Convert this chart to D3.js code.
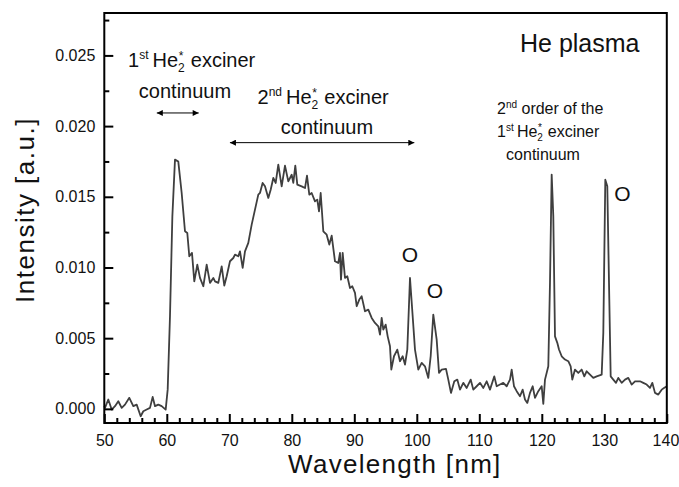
<!DOCTYPE html>
<html>
<head>
<meta charset="utf-8">
<script src="https://cdn.jsdelivr.net/npm/d3@7"></script>
<style>
  html, body { margin: 0; padding: 0; background: #fff; }
  svg { display: block; font-family: "Liberation Sans", Arial, sans-serif; }
</style>
</head>
<body>
<svg id="chart" width="679" height="487"></svg>
<script>
// ---- data ----
const wavelength = [
  50.0, 50.11, 50.64, 51.18, 51.71, 52.24, 52.78, 53.31, 54.0, 54.64, 55.18, 55.82, 56.24, 56.78, 57.31, 57.74,
  58.11, 58.64, 59.18, 59.82, 60.14, 60.51, 60.89, 61.31, 61.84, 62.38, 62.91, 63.28, 63.6, 64.03,
  64.4, 64.88, 65.31, 65.84, 66.38, 66.91, 67.44, 67.71, 68.24, 68.78, 69.2, 69.58, 70.11, 70.64,
  70.91, 71.44, 71.71, 72.14, 72.51, 73.04, 73.58, 74.11, 74.64, 74.91, 75.33, 75.71, 76.24, 76.62,
  77.04, 77.42, 77.84, 78.38, 78.91, 79.44, 79.98, 80.24, 80.56, 80.88, 81.58, 82.11, 82.43, 82.8,
  83.18, 83.71, 84.08, 84.35, 84.62, 85.04, 85.58, 86.0, 86.38, 86.91, 87.44, 87.71, 87.87, 88.14,
  88.51, 88.88, 89.31, 89.68, 90.11, 90.38, 90.8, 91.18, 91.71, 92.24, 92.78, 93.31, 93.84, 94.11,
  94.38, 94.64, 95.02, 95.34, 95.71, 95.92, 96.35, 96.88, 97.31, 97.74, 98.11, 98.48, 98.91, 99.34,
  99.71, 100.24, 100.78, 101.31, 101.84, 102.22, 102.64, 103.18, 103.55, 103.98, 104.67, 105.04,
  105.47, 106.0, 106.48, 106.91, 107.44, 107.98, 108.62, 109.04, 109.58, 110.11, 110.64, 111.18,
  111.71, 112.4, 112.78, 113.31, 113.84, 114.38, 114.91, 115.18, 115.55, 115.98, 116.51, 116.94,
  117.31, 117.68, 118.11, 118.54, 118.91, 119.44, 119.98, 120.24, 120.51, 121.04, 121.31, 121.58,
  121.84, 122.11, 122.48, 122.75, 123.18, 123.71, 124.24, 124.62, 124.88, 125.31, 125.84, 126.38,
  126.8, 127.18, 127.71, 128.24, 128.78, 129.58, 129.84, 130.16, 130.48, 130.8, 131.02, 131.44,
  131.87, 132.24, 132.78, 133.31, 133.84, 134.38, 134.91, 135.71, 136.24, 136.78, 137.31, 137.68,
  138.11, 138.64, 139.18, 139.55, 140.0
];
const intensity = [
  0.0002, 0.00007, 0.00066, -0.00005, 0.00019, 0.00054, 0.00007, 0.0003, 0.00078, 0.00019, 0.0003, -0.00052, -0.00017, -0.00005, 0.00007, 0.00085,
  0.00019, 0.0003, 0.00019, -0.00005, 0.00136, 0.00655, 0.01362, 0.01763, 0.01749, 0.01527, 0.01256, 0.01244, 0.01079, 0.01103,
  0.00902, 0.0102, 0.00926, 0.00867, 0.0102, 0.00891, 0.00926, 0.00902, 0.00891, 0.01008, 0.00872, 0.00938, 0.01044, 0.01067,
  0.01091, 0.01079, 0.01114, 0.00997, 0.01114, 0.01174, 0.01303, 0.01409, 0.01515, 0.01527, 0.01598, 0.01574, 0.01492, 0.0155,
  0.01633, 0.01598, 0.01727, 0.01574, 0.0172, 0.01609, 0.01656, 0.01598, 0.0172, 0.01586, 0.01574, 0.01562, 0.0165, 0.01515,
  0.01527, 0.01468, 0.0148, 0.01397, 0.01527, 0.01256, 0.01232, 0.01162, 0.01225, 0.01044, 0.01032, 0.01103, 0.00914, 0.01103,
  0.00926, 0.00938, 0.00855, 0.00867, 0.0082, 0.00726, 0.00773, 0.00796, 0.0069, 0.00702, 0.00643, 0.00608, 0.00584, 0.00525,
  0.00643, 0.00561, 0.00596, 0.00513, 0.00443, 0.00278, 0.00372, 0.00419, 0.00337, 0.00372, 0.00313, 0.00419, 0.00926, 0.00655,
  0.00419, 0.00278, 0.00325, 0.00301, 0.00219, 0.00372, 0.00667, 0.0049, 0.00255, 0.00278, 0.00283, 0.00207,
  0.00113, 0.00195, 0.00207, 0.00136, 0.00184, 0.00148, 0.00207, 0.00136, 0.0016, 0.00184, 0.00148, 0.00195,
  0.00136, 0.0023, 0.0016, 0.00172, 0.00184, 0.0016, 0.00207, 0.00278, 0.0016, 0.00125, 0.00089, 0.00136,
  0.00066, 0.00042, 0.00113, 0.0016, 0.00078, 0.00125, 0.0016, 0.00035, 0.00207, 0.00301, 0.00891, 0.01657,
  0.01362, 0.00513, 0.00467, 0.0042, 0.00372, 0.00349, 0.00337, 0.00301, 0.00207, 0.00278, 0.00254, 0.00278,
  0.0023, 0.00266, 0.00242, 0.00219, 0.0023, 0.00242, 0.00537, 0.01621, 0.01574, 0.00773, 0.0023, 0.00207,
  0.00184, 0.00219, 0.00184, 0.00207, 0.00219, 0.00172, 0.00195, 0.00195, 0.00184, 0.00172, 0.00148, 0.00184,
  0.00113, 0.00101, 0.00136, 0.00148, 0.0016
];
const xDomain = [50, 140];
const yDomain = [-0.001, 0.028];
const xMajorTicks = [50, 60, 70, 80, 90, 100, 110, 120, 130, 140];
const yMajorTicks = [0.000, 0.005, 0.010, 0.015, 0.020, 0.025];
const yTickLabels = ["0.000", "0.005", "0.010", "0.015", "0.020", "0.025"];
const xTitle = "Wavelength [nm]";
const yTitle = "Intensity [a.u.]";
// O-line markers (wavelength, intensity position of label)
const oMarkers = [[98.9, 0.0109], [102.9, 0.0084], [132.9, 0.01525]];

// ---- layout ----
const svg = d3.select("#chart");
const padL = 104.3, padR = 666.8, padT = 13, padB = 423;
const x = d3.scaleLinear().domain(xDomain).range([padL, padR]);
const y = d3.scaleLinear().domain(yDomain).range([padB, padT]);

const xMinor = d3.range(50, 140.01, 2).filter(v => v % 10 !== 0);
const yMinor = d3.range(0.0025, 0.0276, 0.005);

// spectrum line
const line = d3.line().x((d, i) => x(wavelength[i])).y(d => y(d));
svg.append("path")
  .datum(intensity)
  .attr("d", line)
  .attr("fill", "none")
  .attr("stroke", "#3f3f3f")
  .attr("stroke-width", 1.8)
  .attr("stroke-linejoin", "round");

// axes
const gx = svg.append("g").attr("transform", `translate(0,${padB})`)
  .call(d3.axisBottom(x).tickValues(xMajorTicks).tickSize(-9).tickPadding(12).tickFormat(d3.format("d")));
const gxm = svg.append("g").attr("transform", `translate(0,${padB})`)
  .call(d3.axisBottom(x).tickValues(xMinor).tickSize(-5).tickFormat(""));
const gy = svg.append("g").attr("transform", `translate(${padL},0)`)
  .call(d3.axisLeft(y).tickValues(yMajorTicks).tickSize(-9).tickPadding(9).tickFormat((d, i) => yTickLabels[i]));
const gym = svg.append("g").attr("transform", `translate(${padL},0)`)
  .call(d3.axisLeft(y).tickValues(yMinor).tickSize(-5).tickFormat(""));

[gx, gxm, gy, gym].forEach(g => {
  g.select(".domain").remove();
  g.selectAll(".tick line").attr("stroke", "#000").attr("stroke-width", 2);
  g.selectAll(".tick text").attr("fill", "#111").style("font-size", "16px")
    .style("font-family", '"Liberation Sans", Arial, sans-serif');
});
// keep the last x label inside the picture
gx.selectAll(".tick text").filter(d => d === 140).attr("text-anchor", "end").attr("dx", 12);

// frame
svg.append("rect")
  .attr("x", padL).attr("y", padT)
  .attr("width", padR - padL).attr("height", padB - padT)
  .attr("fill", "none").attr("stroke", "#000").attr("stroke-width", 2);

// axis titles
svg.append("text")
  .attr("x", 288).attr("y", 473)
  .style("font-size", "26px").style("letter-spacing", "1.3px")
  .attr("fill", "#111")
  .text(xTitle);
svg.append("text")
  .attr("transform", "translate(34,210) rotate(-90)")
  .attr("text-anchor", "middle")
  .style("font-size", "26px").style("letter-spacing", "1.5px")
  .attr("fill", "#111")
  .text(yTitle);

// "He plasma"
svg.append("text").attr("x", 520).attr("y", 52)
  .style("font-size", "25px").attr("fill", "#111").text("He plasma");

// helper: "N<sup>xx</sup> He<sub>2</sub><sup>*</sup> exciner"
function excimerLabel(xp, yp, num, sup, size, supSize) {
  const t = svg.append("text").attr("x", xp).attr("y", yp)
    .style("font-size", size + "px").attr("fill", "#111");
  t.append("tspan").text(num);
  t.append("tspan").attr("dy", -size * 0.38).style("font-size", supSize + "px").text(sup);
  t.append("tspan").attr("dy", size * 0.38).attr("dx", size * 0.2).text("He");
  t.append("tspan").attr("dy", size * 0.27).style("font-size", supSize + "px").text("2");
  t.append("tspan").attr("dx", -supSize * 0.5).attr("dy", -size * 0.62).style("font-size", supSize + "px").text("*");
  t.append("tspan").attr("dy", size * 0.35).attr("dx", supSize * 0.15).text(" exciner");
  return t;
}

excimerLabel(128, 66.5, "1", "st", 20, 12);
svg.append("text").attr("x", 185).attr("y", 98).attr("text-anchor", "middle")
  .style("font-size", "20px").attr("fill", "#111").text("continuum");

excimerLabel(257.5, 104, "2", "nd", 20, 12);
svg.append("text").attr("x", 327).attr("y", 134).attr("text-anchor", "middle")
  .style("font-size", "20px").attr("fill", "#111").text("continuum");

// small annotation for 2nd order
const t2 = svg.append("text").attr("x", 497).attr("y", 113.5)
  .style("font-size", "16px").attr("fill", "#111");
t2.append("tspan").text("2");
t2.append("tspan").attr("dy", -6).style("font-size", "10px").text("nd");
t2.append("tspan").attr("dy", 6).text(" order of the");
excimerLabel(497, 137, "1", "st", 16, 10);
svg.append("text").attr("x", 543).attr("y", 160).attr("text-anchor", "middle")
  .style("font-size", "16px").attr("fill", "#111").text("continuum");

// arrows
const defs = svg.append("defs");
defs.append("marker").attr("id", "ah").attr("viewBox", "0 0 10 10")
  .attr("refX", 10).attr("refY", 5).attr("markerWidth", 9).attr("markerHeight", 6)
  .attr("markerUnits", "userSpaceOnUse").attr("orient", "auto-start-reverse")
  .append("path").attr("d", "M0,0 L10,5 L0,10 Z").attr("fill", "#000");

const arrows = [[58.4, 65.1, 0.02093], [70.1, 99.6, 0.01883]];
arrows.forEach(a => {
  svg.append("line")
    .attr("x1", x(a[0])).attr("x2", x(a[1]))
    .attr("y1", y(a[2])).attr("y2", y(a[2]))
    .attr("stroke", "#000").attr("stroke-width", 1)
    .attr("marker-start", "url(#ah)").attr("marker-end", "url(#ah)");
});

// O markers
oMarkers.forEach(m => {
  svg.append("text").attr("x", x(m[0])).attr("y", y(m[1]))
    .attr("text-anchor", "middle").attr("dominant-baseline", "central")
    .style("font-size", "21px").attr("fill", "#111").text("O");
});
</script>
</body>
</html>
